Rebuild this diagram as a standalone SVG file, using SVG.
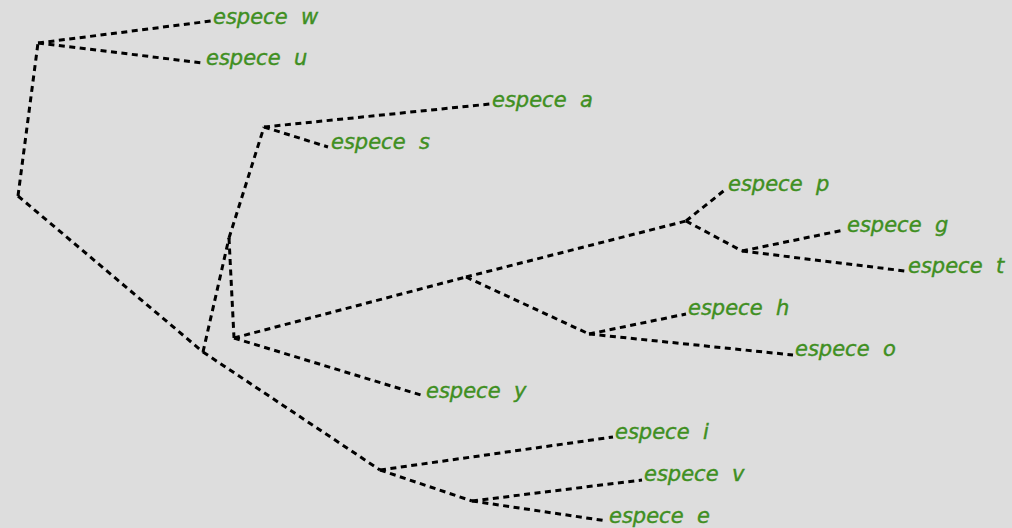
<svg xmlns="http://www.w3.org/2000/svg" width="1012" height="528" viewBox="0 0 1012 528">
  <style>
    .bg { fill: #dddddd; }
    .edge { stroke: #000; stroke-width: 3; stroke-dasharray: 6 4.5; fill: none; stroke-linecap: butt; }
    .lbl { font-family: "DejaVu Sans", "Open Sans", sans-serif; font-style: italic; font-size: 21px; fill: #3f8f22; stroke: #3f8f22; stroke-width: 0.4; white-space: pre; }
  </style>
  <rect class="bg" x="0" y="0" width="1012" height="528"/>

  <!-- tree branches -->
  <g id="connectors">
    <!-- root -->
    <line class="edge" x1="18" y1="196" x2="38" y2="43"/>
    <line class="edge" x1="18" y1="196" x2="203" y2="352"/>
    <!-- w / u pair -->
    <line class="edge" x1="38" y1="43" x2="211" y2="21"/>
    <line class="edge" x1="38" y1="43" x2="203" y2="63"/>
    <!-- inner trunk -->
    <line class="edge" x1="203" y1="352" x2="229" y2="238"/>
    <line class="edge" x1="229" y1="238" x2="264" y2="127"/>
    <line class="edge" x1="229" y1="238" x2="234" y2="338"/>
    <!-- a / s pair -->
    <line class="edge" x1="264" y1="127" x2="490" y2="104"/>
    <line class="edge" x1="264" y1="127" x2="328" y2="147"/>
    <!-- y and the p-g-t-h-o clade -->
    <line class="edge" x1="234" y1="338" x2="466" y2="277"/>
    <line class="edge" x1="234" y1="338" x2="424" y2="396"/>
    <line class="edge" x1="466" y1="277" x2="686" y2="221"/>
    <line class="edge" x1="466" y1="277" x2="589" y2="334"/>
    <line class="edge" x1="686" y1="221" x2="726" y2="189"/>
    <line class="edge" x1="686" y1="221" x2="742" y2="251"/>
    <line class="edge" x1="742" y1="251" x2="844" y2="230"/>
    <line class="edge" x1="742" y1="251" x2="905" y2="271"/>
    <line class="edge" x1="589" y1="334" x2="686" y2="314"/>
    <line class="edge" x1="589" y1="334" x2="793" y2="355"/>
    <!-- i / v / e clade -->
    <line class="edge" x1="203" y1="352" x2="380" y2="470"/>
    <line class="edge" x1="380" y1="470" x2="613" y2="437"/>
    <line class="edge" x1="380" y1="470" x2="472" y2="501"/>
    <line class="edge" x1="472" y1="501" x2="642" y2="480"/>
    <line class="edge" x1="472" y1="501" x2="607" y2="521"/>
  </g>

  <!-- leaves -->
  <g id="leaf-w"><text class="lbl" x="213" y="24">espece  w</text></g>
  <g id="leaf-u"><text class="lbl" x="206" y="65">espece  u</text></g>
  <g id="leaf-a"><text class="lbl" x="492" y="107">espece  a</text></g>
  <g id="leaf-s"><text class="lbl" x="331" y="149">espece  s</text></g>
  <g id="leaf-p"><text class="lbl" x="728" y="191">espece  p</text></g>
  <g id="leaf-g"><text class="lbl" x="847" y="232">espece  g</text></g>
  <g id="leaf-t"><text class="lbl" x="908" y="273">espece  t</text></g>
  <g id="leaf-h"><text class="lbl" x="688" y="315">espece  h</text></g>
  <g id="leaf-o"><text class="lbl" x="795" y="356">espece  o</text></g>
  <g id="leaf-y"><text class="lbl" x="426" y="398">espece  y</text></g>
  <g id="leaf-i"><text class="lbl" x="615" y="439">espece  i</text></g>
  <g id="leaf-v"><text class="lbl" x="644" y="481">espece  v</text></g>
  <g id="leaf-e"><text class="lbl" x="609" y="523">espece  e</text></g>
</svg>
